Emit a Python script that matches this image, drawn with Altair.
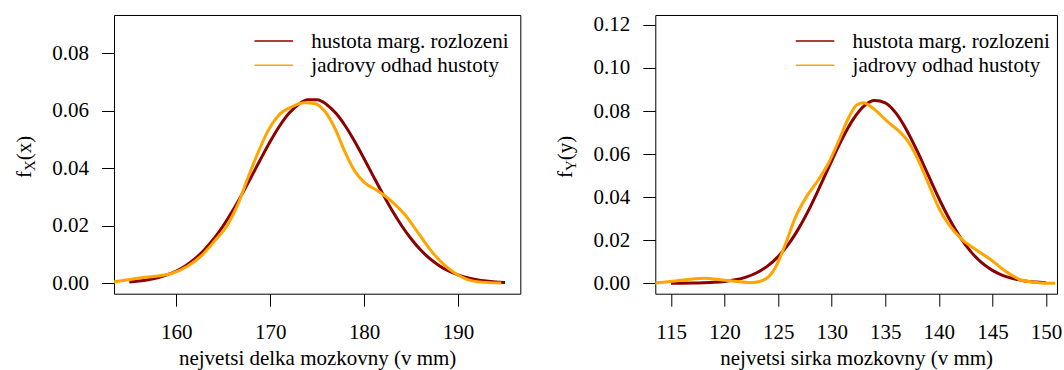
import altair as alt
import pandas as pd

FONT = "Liberation Serif"
colors = ["#8B0000", "#FFA500"]
legend_labels = ["hustota marg. rozlozeni", "jadrovy odhad hustoty"]

# ---------- left panel: nejvetsi delka mozkovny ----------
len_x = [155, 156, 157, 158, 159, 160, 161, 162, 163, 164, 165, 166, 167, 168, 169, 170,
         171, 172, 173, 174, 175, 176, 177, 178, 179, 180, 181, 182, 183, 184, 185, 186,
         187, 188, 189, 190, 191, 192, 193, 194, 195]
len_marg = [0.00048, 0.00078, 0.00124, 0.00192, 0.0029, 0.00427, 0.00612, 0.00855, 0.01165,
            0.01547, 0.0200, 0.0252, 0.0310, 0.0371, 0.0433, 0.0493, 0.0547, 0.0591, 0.0622,
            0.0638, 0.0638, 0.0622, 0.0591, 0.0547, 0.0493, 0.0433, 0.0371, 0.0310, 0.0252,
            0.0200, 0.01547, 0.01165, 0.00855, 0.00612, 0.00427, 0.0029, 0.00192, 0.00124,
            0.00078, 0.00048, 0.00029]
len_kde_x = [152.5, 153.37, 156.27, 159.47, 161.25, 162.66, 164.08, 165.5, 166.57, 167.63, 168.7,
             169.76, 170.83, 172.25, 173.66, 174.73, 175.79, 176.86, 177.92, 178.99, 180.05,
             181.48, 182.9, 184.31, 185.74, 187.16, 188.5, 189.6, 191.0, 192.5, 194.6]
len_kde_y = [0.0002, 0.0005, 0.0019, 0.0034, 0.0060, 0.0095, 0.0147, 0.0205, 0.0275, 0.0367, 0.0454,
             0.0530, 0.0582, 0.0613, 0.0628, 0.0625, 0.0599, 0.0541, 0.0460, 0.0391, 0.0350,
             0.0321, 0.0286, 0.0240, 0.0176, 0.0112, 0.0065, 0.0037, 0.0013, 0.0004, 0.0001]
len_xticks = [160, 170, 180, 190]
len_yticks = [0.00, 0.02, 0.04, 0.06, 0.08]

# ---------- right panel: nejvetsi sirka mozkovny ----------
wid_x = [115, 116, 117, 118, 119, 120, 121, 122, 123, 124, 125, 126, 127, 128, 129, 130, 131,
         132, 133, 134, 135, 136, 137, 138, 139, 140, 141, 142, 143, 144, 145, 146, 147, 148,
         149, 150]
wid_marg = [0.00002, 0.00005, 0.0001, 0.00022, 0.00044, 0.00087, 0.00162, 0.00289, 0.00491,
            0.00798, 0.0124, 0.0184, 0.0262, 0.0355, 0.0460, 0.0569, 0.0673, 0.0761, 0.0823,
            0.0849, 0.0838, 0.0790, 0.0711, 0.0612, 0.0503, 0.0395, 0.0297, 0.0213, 0.0146,
            0.0096, 0.0060, 0.0036, 0.0021, 0.0011, 0.00058, 0.00029]
wid_kde_x = [113.0, 113.53, 115.4, 118.05, 120.07, 122.56, 123.8, 124.74, 125.67, 126.6, 127.69,
             128.79, 129.72, 130.65, 131.59, 132.36, 132.98, 133.76, 135.32, 136.25, 137.19,
             138.12, 139.05, 139.99, 140.92, 142.16, 143.4, 144.8, 146.2, 147.76, 149.3, 150.87]
wid_kde_y = [0.0000, 0.0001, 0.0011, 0.0023, 0.0014, 0.0003, 0.0019, 0.0073, 0.0181, 0.0305, 0.0406,
             0.0483, 0.0560, 0.0661, 0.0770, 0.0829, 0.0838, 0.0816, 0.0746, 0.0708, 0.0654,
             0.0568, 0.0460, 0.0351, 0.0274, 0.0204, 0.0158, 0.0112, 0.0057, 0.0014, 0.0003,
             0.0000]
wid_xticks = [115, 120, 125, 130, 135, 140, 145, 150]
wid_yticks = [0.00, 0.02, 0.04, 0.06, 0.08, 0.10, 0.12]

one = pd.DataFrame({"k": [0]})


def panel(xm, ym, xk, yk, xdom, ydom, xticks, yticks, xtitle, sub, arg, w, h, spacer=False):
    xs = alt.Scale(domain=xdom, nice=False, zero=False)
    ys = alt.Scale(domain=ydom, nice=False, zero=False)
    xax = alt.Axis(values=xticks, format="d", title=xtitle, grid=False, domain=False,
                   labelFlush=False, labelOverlap=False, tickSize=12.5, labelPadding=15,
                   titleY=71.3, titleBaseline="alphabetic")
    yax = alt.Axis(values=yticks, format=".2f", title=None, grid=False, domain=False,
                   labelOverlap=False, tickSize=12.5, labelPadding=13, labelAlign="right",
                   labelBaseline="middle")
    dm = pd.DataFrame({"x": xm, "y": ym})
    dk = pd.DataFrame({"x": xk, "y": yk})
    marg = alt.Chart(dm).mark_line(color=colors[0], strokeWidth=3, clip=True,
                                   interpolate="monotone").encode(
        x=alt.X("x:Q", scale=xs, axis=xax), y=alt.Y("y:Q", scale=ys, axis=yax))
    kde = alt.Chart(dk).mark_line(color=colors[1], strokeWidth=3, clip=True,
                                  interpolate="monotone").encode(
        x=alt.X("x:Q", scale=xs, axis=xax), y=alt.Y("y:Q", scale=ys, axis=yax))
    layers = [marg, kde]
    for i, (lab, col) in enumerate(zip(legend_labels, colors)):
        ly = 26 + 24.3 * i
        layers.append(alt.Chart(one).mark_rule(color=col, strokeWidth=1.5).encode(
            x=alt.value(140.5), x2=alt.value(179), y=alt.value(ly)))
        layers.append(alt.Chart(pd.DataFrame({"label": [lab]})).mark_text(
            align="left", baseline="alphabetic", font=FONT, fontSize=21, color="black").encode(
            text="label:N", x=alt.value(197.3), y=alt.value(ly + 7)))
    # y-axis title f_X(x) with subscript
    layers.append(alt.Chart(one).mark_text(text="f", angle=270, align="left", baseline="alphabetic",
                                           font=FONT, fontSize=21, color="black").encode(
        x=alt.value(-83.2), y=alt.value(163)))
    layers.append(alt.Chart(one).mark_text(text=sub, angle=270, align="left", baseline="alphabetic",
                                           font=FONT, fontSize=15, color="black").encode(
        x=alt.value(-79.2), y=alt.value(156)))
    layers.append(alt.Chart(one).mark_text(text=arg, angle=270, align="left", baseline="alphabetic",
                                           font=FONT, fontSize=21, color="black").encode(
        x=alt.value(-83.2), y=alt.value(145.2)))
    if spacer:
        layers.append(alt.Chart(one).mark_rule(strokeOpacity=0, opacity=0).encode(
            x=alt.value(-112.7), x2=alt.value(-112.7), y=alt.value(-14), y2=alt.value(-14)))
    return alt.layer(*layers).properties(width=w, height=h)


left = panel(len_x, len_marg, len_kde_x, len_kde_y, [153.37, 196.63], [-0.00362, 0.0933],
             len_xticks, len_yticks, "nejvetsi delka mozkovny (v mm)", "X", "(x)", 406.3, 278.7,
             spacer=True)
right = panel(wid_x, wid_marg, wid_kde_x, wid_kde_y, [113.53, 151.03], [-0.00483, 0.1246],
              wid_xticks, wid_yticks, "nejvetsi sirka mozkovny (v mm)", "Y", "(y)", 401.7, 278.7)

chart = alt.hconcat(left, right, spacing=134.3, bounds="flush").properties(
    padding=0, background="white"
).configure_view(stroke="black", strokeWidth=1).configure_axis(
    labelFont=FONT, titleFont=FONT, labelFontSize=21, titleFontSize=21,
    labelColor="black", titleColor="black", tickColor="black", tickWidth=1,
    titleFontWeight="normal"
)

chart.save("out.html", embed_options={"renderer": "svg", "actions": False})
